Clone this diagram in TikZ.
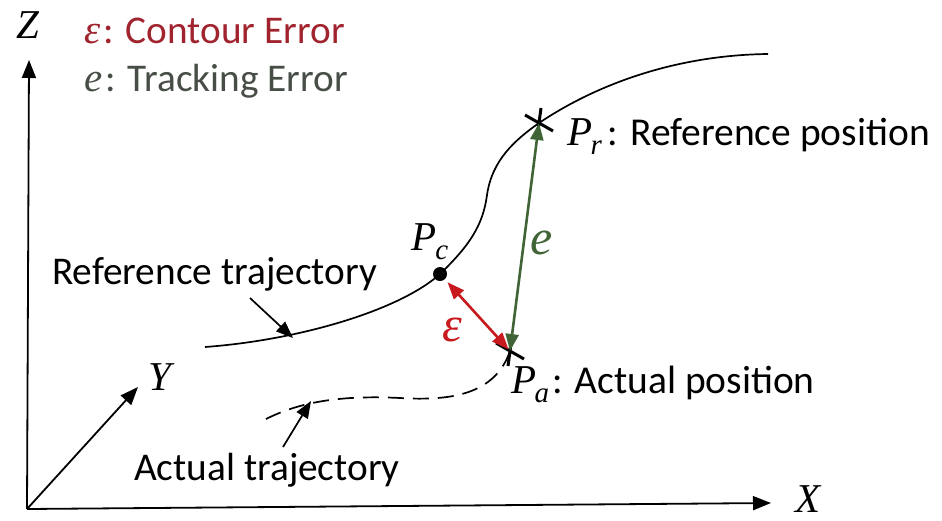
\documentclass[tikz,border=0pt]{standalone}
\usepackage{fontspec}
\setmainfont{Carlito}
\newfontfamily\mfont{Liberation Serif}
\usetikzlibrary{arrows.meta}
\definecolor{cred}{RGB}{200,25,30}
\definecolor{cdred}{RGB}{160,35,45}
\definecolor{cgreen}{RGB}{65,100,55}
\definecolor{cgray}{RGB}{70,78,70}
\newcommand\mi[1]{{\mfont\itshape #1}}
\newcommand\msub[2]{\mi{#1}\kern-0.04em\raisebox{-0.22em}{\fontsize{29}{29}\selectfont\mi{#2}}}
\begin{document}
\begin{tikzpicture}[x=1pt,y=-1pt,
  axis/.style={line width=1.8pt,-{Triangle[length=18pt,width=14pt]}},
  traj/.style={line width=1.7pt},
  pointer/.style={line width=1.7pt,-{Triangle[length=17pt,width=13pt]}},
  txt/.style={font=\fontsize{39.3}{41}\selectfont,inner sep=0pt},
  sym/.style={font=\fontsize{41}{43}\selectfont,inner sep=0pt},
  lab/.style={font=\fontsize{39.5}{41}\selectfont,inner sep=0pt},
  big/.style={font=\fontsize{50}{52}\selectfont,inner sep=0pt},
  xmark/.pic={\draw[line width=3pt] (-14,-8)--(14,8) (2,-15)--(-2,15);},
  errarrow/.style={line width=2.6pt,{Triangle[length=17pt,width=13pt]}-{Triangle[length=17pt,width=13pt]}}]
\useasboundingbox (0,0) rectangle (942,520);
% axes
\coordinate (O) at (27,509);
\coordinate (Zt) at (29,60);
\coordinate (Xt) at (771,503);
\coordinate (Yt) at (138,387);
\draw[axis] (O) -- (Zt);
\draw[axis] (O) -- (Xt);
\draw[axis] (O) -- (Yt);
\node[sym,anchor=base] (Zl) at (28,38) {\mi{Z}};
\node[sym,anchor=base] (Xl) at (808,512) {\mi{X}};
\node[sym,anchor=base] (Yl) at (160,390) {\mi{Y}};
% legend
\node[txt,anchor=base west,text=cdred] (leg1) at (84,43) {{\fontsize{41}{43}\selectfont\mi{ε}}\kern3pt: Contour Error};
\node[txt,anchor=base west,text=cgray] (leg2) at (84,91) {{\fontsize{41}{43}\selectfont\mi{e}}\kern3pt: Tracking Error};
% points
\coordinate (Pr) at (539,123);
\coordinate (Pa) at (510,351);
\node[circle,fill=black,inner sep=0pt,minimum size=14pt] (Pc) at (440,274) {};
% reference trajectory
\coordinate (Rs) at (205,347);
\coordinate (Re) at (768,54);
\draw[traj] (Rs) .. controls (300,340) and (400,310) .. (Pc.center)
  .. controls (470,245) and (483,225) .. (487,195)
  .. controls (492,160) and (515,140) .. (Pr)
  .. controls (600,82) and (680,55) .. (Re);
% actual trajectory
\coordinate (As) at (266,419);
\draw[traj,dashed,dash pattern=on 16pt off 9pt] (As) .. controls (300,402) and (340,395) .. (400,398)
  .. controls (450,401) and (495,395) .. (Pa);
% crosses
\pic at (Pr) {xmark};
\pic at (Pa) {xmark};
% error arrows
\draw[errarrow,cgreen] (Pa) -- (Pr);
\draw[errarrow,cred,shorten <=2pt,shorten >=4pt] (Pa) -- (Pc);
\node[big,text=cred] (eps) at (452,330) {\mi{ε}};
\node[big,text=cgreen] (el) at (542,243) {\mi{e}};
% point labels
\node[lab,anchor=base west] (Prl) at (567,145) {{\fontsize{41}{43}\selectfont\msub{P}{r}}\kern6pt: Reference position};
\node[lab,anchor=base west] (Pal) at (511,393) {{\fontsize{41}{43}\selectfont\msub{P}{a}}\kern3pt: Actual position};
\node[sym,anchor=base] (Pcl) at (430,250) {\msub{P}{c}};
% trajectory labels
\node[txt,anchor=base west] (rtl) at (52,284) {Reference trajectory};
\node[txt,anchor=base west] (atl) at (134,480) {Actual trajectory};
\coordinate (rp) at (250,298);
\coordinate (rpt) at (293,338);
\draw[pointer] (rp) -- (rpt);
\coordinate (ap) at (283,447);
\coordinate (apt) at (311,401);
\draw[pointer] (ap) -- (apt);
\end{tikzpicture}
\end{document}
